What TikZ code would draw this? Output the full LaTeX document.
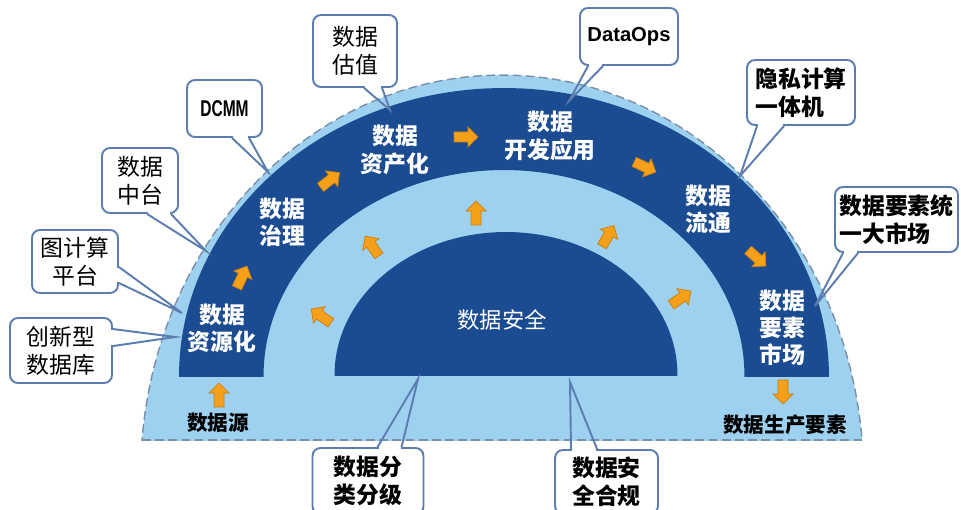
\documentclass[tikz,border=0pt]{standalone}
\usepackage{fontspec}
\usepackage{graphicx}
\setmainfont{Noto Sans CJK SC}
\newfontfamily\latinfont{Liberation Sans}
\usetikzlibrary{calc}
\definecolor{darkb}{HTML}{1B4B91}
\definecolor{lightb}{HTML}{9DD1EF}
\definecolor{dashc}{HTML}{7A8FA8}
\definecolor{orng}{HTML}{F6A01A}
\definecolor{orngd}{HTML}{C97F0E}
\definecolor{callb}{HTML}{5C7DAF}
\begin{document}
\begin{tikzpicture}[x=0.02cm,y=-0.02cm,
  dashline/.style={draw=dashc, line width=0.8pt, dash pattern=on 5pt off 2.5pt},
  callbox/.style={draw=callb, line width=1.1pt, fill=white, rounded corners=0.16cm, inner sep=0pt, align=center,
    font=\fontsize{13pt}{16pt}\selectfont},
  callboxb/.style={callbox, font=\bfseries\fontsize{13pt}{16pt}\selectfont},
  tailline/.style={draw=callb, line width=1.1pt, line join=miter},
  tailgap/.style={draw=white, line width=1.8pt},
  stage/.style={text=white, align=center, inner sep=0pt, font=\bfseries\fontsize{13pt}{15.5pt}\selectfont},
  plain/.style={text=black, inner sep=0pt, font=\bfseries\fontsize{11.7pt}{14pt}\selectfont},
  barrow/.pic={\filldraw[fill=orng, draw=orngd, line width=0.4pt, line join=miter]
     (-12,-5) -- (2,-5) -- (2,-10) -- (12,0) -- (2,10) -- (2,5) -- (-12,5) -- cycle;}
]
\useasboundingbox (0,0) rectangle (961,510);
\fill[white] (0,0) rectangle (961,510);

% outer light half disc
\begin{scope}
  \clip (0,0) rectangle (961,440);
  \fill[lightb] (502,476) ellipse [x radius=7.23cm, y radius=8.02cm];
  \draw[dashline] (502,476) ellipse [x radius=7.23cm, y radius=8.02cm];
\end{scope}
\coordinate (bl) at (142,440);
\coordinate (br) at (862,440);
\draw[dashline] (bl) -- (br);

% dark band
\begin{scope}
  \clip (0,0) rectangle (961,376);
  \fill[darkb, even odd rule] (504,376) ellipse [x radius=6.5cm, y radius=5.76cm]
                              (504,376) ellipse [x radius=4.81cm, y radius=4.12cm];
\end{scope}
% inner dark half disc
\begin{scope}
  \clip (0,0) rectangle (961,375);
  \fill[darkb] (506,375) ellipse [x radius=3.43cm, y radius=2.86cm];
\end{scope}

% stage texts
\node[stage] (s1) at (222,328) {数据\\资源化};
\node[stage] (s2) at (282,222) {数据\\治理};
\node[stage] (s3) at (395,150) {数据\\资产化};
\node[stage] (s4) at (550,136) {数据\\开发应用};
\node[stage] (s5) at (708,209) {数据\\流通};
\node[stage] (s6) at (782,328) {数据\\要素\\市场};
\node[text=white, inner sep=0pt, font=\fontsize{12.7pt}{15pt}\selectfont] (sec) at (502,320) {数据安全};
\node[plain] (src) at (218,423) {数据源};
\node[plain] (out) at (785,425) {数据生产要素};

% orange arrows in the band
\pic[rotate=65] at (242,277) {barrow};
\pic[rotate=38] at (330,180) {barrow};
\pic[rotate=0] at (466,137) {barrow};
\pic[rotate=-25] at (645,167) {barrow};
\pic[rotate=-42] at (757,258) {barrow};
\pic[rotate=90] at (219,395) {barrow};
\pic[rotate=-90] at (783,392) {barrow};
% orange arrows in the inner ring
\pic[rotate=145] at (321,316) {barrow};
\pic[rotate=125] at (372,246) {barrow};
\pic[rotate=90] at (476,213) {barrow};
\pic[rotate=60] at (608,236) {barrow};
\pic[rotate=35] at (681,298) {barrow};

% callouts
\node[callbox, minimum width=2.04cm, minimum height=1.30cm] (cb1) at (61,350.5) {创新型\\数据库};
\node[callbox, minimum width=1.72cm, minimum height=1.26cm] (cb2) at (75,261.5) {图计算\\平台};
\node[callbox, minimum width=1.52cm, minimum height=1.30cm] (cb3) at (140,180.5) {数据\\中台};
\node[callbox, minimum width=1.50cm, minimum height=1.14cm, font=\latinfont\bfseries\fontsize{13pt}{15pt}\selectfont] (cb4) at (224.5,108.5) {\scalebox{0.68}[1]{DCMM}};
\node[callbox, minimum width=1.68cm, minimum height=1.44cm] (cb5) at (355,51) {数据\\估值};
\node[callbox, minimum width=1.96cm, minimum height=1.14cm, font=\latinfont\bfseries\fontsize{11.5pt}{14pt}\selectfont] (cb6) at (629,36.5) {DataOps};
\node[callboxb, minimum width=2.16cm, minimum height=1.30cm, align=left] (cb7) at (801,92.5) {隐私计算\\一体机};
\node[callboxb, minimum width=2.46cm, minimum height=1.30cm, align=left] (cb8) at (896.5,219.5) {数据要素统\\一大市场};
\node[callboxb, minimum width=2.22cm, minimum height=1.32cm] (cb9) at (368,481) {数据分\\类分级};
\node[callboxb, minimum width=2.06cm, minimum height=1.28cm] (cb10) at (606.5,482) {数据安\\全合规};

% tail tips
\coordinate (t1) at (175,337);
\coordinate (t2) at (182,313);
\coordinate (t3) at (206,251);
\coordinate (t4) at (268,172);
\coordinate (t5) at (390,110);
\coordinate (t6) at (569,101);
\coordinate (t7) at (740,176);
\coordinate (t8) at (815,306);
\coordinate (t9) at (418,379);
\coordinate (t10) at (570,382);

% tails (gap in border, then two lines)
\draw[tailgap] ($(cb1.north east)+(0,13)$) -- ($(cb1.north east)+(0,28)$);
\draw[tailline] ($(cb1.north east)+(0,12)$) -- (t1) -- ($(cb1.north east)+(0,29)$);
\draw[tailgap] ($(cb2.north east)+(0,39)$) -- ($(cb2.north east)+(0,53)$);
\draw[tailline] ($(cb2.north east)+(0,38)$) -- (t2) -- ($(cb2.north east)+(0,54)$);
\draw[tailgap] ($(cb3.south west)+(47,0)$) -- ($(cb3.south west)+(69,0)$);
\draw[tailline] ($(cb3.south west)+(46,0)$) -- (t3) -- ($(cb3.south west)+(70,0)$);
\draw[tailgap] ($(cb4.south west)+(47,0)$) -- ($(cb4.south west)+(62,0)$);
\draw[tailline] ($(cb4.south west)+(46,0)$) -- (t4) -- ($(cb4.south west)+(63,0)$);
\draw[tailgap] ($(cb5.south west)+(53,0)$) -- ($(cb5.south west)+(69,0)$);
\draw[tailline] ($(cb5.south west)+(52,0)$) -- (t5) -- ($(cb5.south west)+(70,0)$);
\draw[tailgap] ($(cb6.south west)+(10,0)$) -- ($(cb6.south west)+(23,0)$);
\draw[tailline] ($(cb6.south west)+(9,0)$) -- (t6) -- ($(cb6.south west)+(24,0)$);
\draw[tailgap] ($(cb7.south west)+(12,0)$) -- ($(cb7.south west)+(37,0)$);
\draw[tailline] ($(cb7.south west)+(11,0)$) -- (t7) -- ($(cb7.south west)+(38,0)$);
\draw[tailgap] ($(cb8.south west)+(10,0)$) -- ($(cb8.south west)+(23,0)$);
\draw[tailline] ($(cb8.south west)+(9,0)$) -- (t8) -- ($(cb8.south west)+(24,0)$);
\draw[tailgap] ($(cb9.north west)+(67,0)$) -- ($(cb9.north west)+(89,0)$);
\draw[tailline] ($(cb9.north west)+(66,0)$) -- (t9) -- ($(cb9.north west)+(90,0)$);
\draw[tailgap] ($(cb10.north west)+(18,0)$) -- ($(cb10.north west)+(42,0)$);
\draw[tailline] ($(cb10.north west)+(17,0)$) -- (t10) -- ($(cb10.north west)+(43,0)$);
\end{tikzpicture}
\end{document}
